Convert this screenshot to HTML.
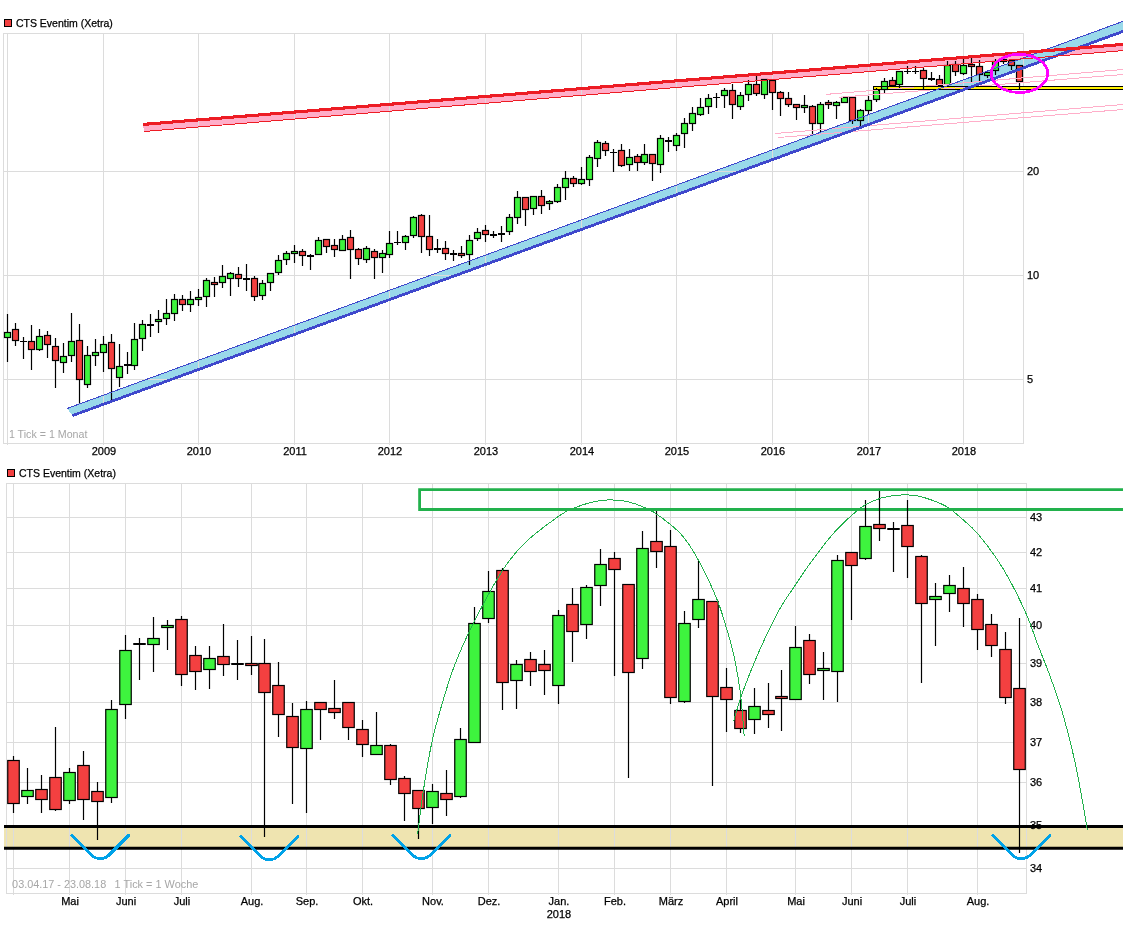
<!DOCTYPE html>
<html><head><meta charset="utf-8"><title>CTS Eventim (Xetra)</title>
<style>html,body{margin:0;padding:0;background:#fff}svg{display:block}text{font-family:"Liberation Sans",Arial,sans-serif;font-size:11px;fill:#000;stroke:#000;stroke-width:.25px}.gr{fill:#a6a6a6;stroke:none}</style>
</head><body>
<svg width="1123" height="933" viewBox="0 0 1123 933">
<rect width="1123" height="933" fill="#fff"/>
<polygon points="143.2,124.4 1123,44.4 1123,50.6 143.9,131.5" fill="#ffaec9" shape-rendering="crispEdges"/>
<polygon points="67.1,408.5 1123,21.36 1123,31.4 72.45,415.6" fill="#99d9ea" shape-rendering="crispEdges"/>
<g stroke="#dcdcdc" stroke-width="1" fill="none" shape-rendering="crispEdges">
<rect x="3.5" y="33.5" width="1020.0" height="410.0"/>
<line x1="7.5" y1="33.5" x2="7.5" y2="445.0"/>
<line x1="103.5" y1="33.5" x2="103.5" y2="445.0"/>
<line x1="198.5" y1="33.5" x2="198.5" y2="445.0"/>
<line x1="294.5" y1="33.5" x2="294.5" y2="445.0"/>
<line x1="389.5" y1="33.5" x2="389.5" y2="445.0"/>
<line x1="485.5" y1="33.5" x2="485.5" y2="445.0"/>
<line x1="581.5" y1="33.5" x2="581.5" y2="445.0"/>
<line x1="676.5" y1="33.5" x2="676.5" y2="445.0"/>
<line x1="772.5" y1="33.5" x2="772.5" y2="445.0"/>
<line x1="868.5" y1="33.5" x2="868.5" y2="445.0"/>
<line x1="963.5" y1="33.5" x2="963.5" y2="445.0"/>
<line x1="3.5" y1="171.5" x2="1023.5" y2="171.5"/>
<line x1="3.5" y1="275.5" x2="1023.5" y2="275.5"/>
<line x1="3.5" y1="379.5" x2="1023.5" y2="379.5"/>
</g>
<rect x="873" y="86" width="260" height="4" fill="#fff200" shape-rendering="crispEdges"/>
<g stroke="#000" stroke-width="1.2"><line x1="7.5" y1="314" x2="7.5" y2="362"/><rect x="4.5" y="332.5" width="6" height="5" fill="#3ef33e"/><line x1="15.5" y1="323" x2="15.5" y2="346"/><rect x="12.5" y="329.5" width="6" height="11" fill="#f34040"/><line x1="23.5" y1="337" x2="23.5" y2="359"/><line x1="20" y1="341.5" x2="27" y2="341.5" stroke-width="1"/><line x1="31.5" y1="325" x2="31.5" y2="370"/><rect x="28.5" y="341.5" width="6" height="8" fill="#f34040"/><line x1="39.5" y1="329" x2="39.5" y2="351"/><rect x="36.5" y="336.5" width="6" height="13" fill="#3ef33e"/><line x1="47.5" y1="331" x2="47.5" y2="358"/><rect x="44.5" y="335.5" width="6" height="9" fill="#f34040"/><line x1="55.5" y1="338" x2="55.5" y2="388"/><rect x="52.5" y="346.5" width="6" height="14" fill="#f34040"/><line x1="63.5" y1="343" x2="63.5" y2="373"/><rect x="60.5" y="356.5" width="6" height="6" fill="#3ef33e"/><line x1="71.5" y1="313" x2="71.5" y2="362"/><rect x="68.5" y="341.5" width="6" height="14" fill="#3ef33e"/><line x1="79.5" y1="324" x2="79.5" y2="404"/><rect x="76.5" y="340.5" width="6" height="39" fill="#f34040"/><line x1="87.5" y1="346" x2="87.5" y2="388"/><rect x="84.5" y="355.5" width="6" height="29" fill="#3ef33e"/><line x1="95.5" y1="339" x2="95.5" y2="366"/><rect x="92.5" y="352.5" width="6" height="3" fill="#3ef33e"/><line x1="103.5" y1="336" x2="103.5" y2="372"/><rect x="100.5" y="344.5" width="6" height="8" fill="#3ef33e"/><line x1="111.5" y1="334" x2="111.5" y2="403"/><rect x="108.5" y="342.5" width="6" height="26" fill="#f34040"/><line x1="119.5" y1="344" x2="119.5" y2="387"/><rect x="116.5" y="366.5" width="6" height="11" fill="#3ef33e"/><line x1="127.5" y1="352" x2="127.5" y2="374"/><line x1="124" y1="365" x2="131" y2="365" stroke-width="2"/><line x1="134.5" y1="323" x2="134.5" y2="370"/><rect x="131.5" y="339.5" width="6" height="26" fill="#3ef33e"/><line x1="142.5" y1="320" x2="142.5" y2="351"/><rect x="139.5" y="324.5" width="6" height="14" fill="#3ef33e"/><line x1="150.5" y1="314" x2="150.5" y2="337"/><line x1="147" y1="325" x2="154" y2="325" stroke-width="2"/><line x1="158.5" y1="310" x2="158.5" y2="333"/><rect x="155.5" y="319.5" width="6" height="2" fill="#3ef33e"/><line x1="166.5" y1="299" x2="166.5" y2="325"/><rect x="163.5" y="313.5" width="6" height="5" fill="#3ef33e"/><line x1="174.5" y1="294" x2="174.5" y2="321"/><rect x="171.5" y="299.5" width="6" height="14" fill="#3ef33e"/><line x1="182.5" y1="295" x2="182.5" y2="311"/><rect x="179.5" y="299.5" width="6" height="5" fill="#f34040"/><line x1="190.5" y1="291" x2="190.5" y2="312"/><rect x="187.5" y="299.5" width="6" height="5" fill="#3ef33e"/><line x1="198.5" y1="289" x2="198.5" y2="306"/><rect x="195.5" y="297.5" width="6" height="2" fill="#3ef33e"/><line x1="206.5" y1="278" x2="206.5" y2="307"/><rect x="203.5" y="280.5" width="6" height="16" fill="#3ef33e"/><line x1="214.5" y1="277" x2="214.5" y2="297"/><rect x="211.5" y="282.5" width="6" height="2" fill="#f34040"/><line x1="222.5" y1="265" x2="222.5" y2="288"/><rect x="219.5" y="276.5" width="6" height="6" fill="#3ef33e"/><line x1="230.5" y1="272" x2="230.5" y2="296"/><rect x="227.5" y="273.5" width="6" height="5" fill="#3ef33e"/><line x1="238.5" y1="267" x2="238.5" y2="287"/><rect x="235.5" y="274.5" width="6" height="4" fill="#f34040"/><line x1="246.5" y1="264" x2="246.5" y2="291"/><line x1="243" y1="279" x2="250" y2="279" stroke-width="2"/><line x1="254.5" y1="276" x2="254.5" y2="301"/><rect x="251.5" y="278.5" width="6" height="18" fill="#f34040"/><line x1="262.5" y1="280" x2="262.5" y2="300"/><rect x="259.5" y="283.5" width="6" height="12" fill="#3ef33e"/><line x1="270.5" y1="273" x2="270.5" y2="291"/><rect x="267.5" y="273.5" width="6" height="9" fill="#3ef33e"/><line x1="278.5" y1="255" x2="278.5" y2="275"/><rect x="275.5" y="260.5" width="6" height="12" fill="#3ef33e"/><line x1="286.5" y1="251" x2="286.5" y2="265"/><rect x="283.5" y="253.5" width="6" height="6" fill="#3ef33e"/><line x1="294.5" y1="245" x2="294.5" y2="263"/><rect x="291.5" y="251.5" width="6" height="2" fill="#3ef33e"/><line x1="302.5" y1="249" x2="302.5" y2="266"/><rect x="299.5" y="251.5" width="6" height="4" fill="#f34040"/><line x1="310.5" y1="254" x2="310.5" y2="270"/><line x1="307" y1="256" x2="314" y2="256" stroke-width="2"/><line x1="318.5" y1="237" x2="318.5" y2="254"/><rect x="315.5" y="240.5" width="6" height="14" fill="#3ef33e"/><line x1="326.5" y1="239" x2="326.5" y2="253"/><rect x="323.5" y="239.5" width="6" height="7" fill="#f34040"/><line x1="334.5" y1="239" x2="334.5" y2="257"/><rect x="331.5" y="245.5" width="6" height="4" fill="#f34040"/><line x1="342.5" y1="235" x2="342.5" y2="251"/><rect x="339.5" y="239.5" width="6" height="11" fill="#3ef33e"/><line x1="350.5" y1="230" x2="350.5" y2="279"/><rect x="347.5" y="237.5" width="6" height="12" fill="#f34040"/><line x1="358.5" y1="248" x2="358.5" y2="265"/><rect x="355.5" y="249.5" width="6" height="9" fill="#f34040"/><line x1="366.5" y1="246" x2="366.5" y2="263"/><rect x="363.5" y="248.5" width="6" height="11" fill="#3ef33e"/><line x1="374.5" y1="249" x2="374.5" y2="279"/><rect x="371.5" y="251.5" width="6" height="6" fill="#f34040"/><line x1="382.5" y1="250" x2="382.5" y2="273"/><rect x="379.5" y="253.5" width="6" height="4" fill="#3ef33e"/><line x1="389.5" y1="231" x2="389.5" y2="258"/><rect x="386.5" y="243.5" width="6" height="11" fill="#3ef33e"/><line x1="397.5" y1="231" x2="397.5" y2="245"/><line x1="394" y1="242.5" x2="401" y2="242.5" stroke-width="1"/><line x1="405.5" y1="235" x2="405.5" y2="250"/><rect x="402.5" y="236.5" width="6" height="6" fill="#3ef33e"/><line x1="413.5" y1="216" x2="413.5" y2="238"/><rect x="410.5" y="217.5" width="6" height="18" fill="#3ef33e"/><line x1="421.5" y1="214" x2="421.5" y2="253"/><rect x="418.5" y="215.5" width="6" height="21" fill="#f34040"/><line x1="429.5" y1="215" x2="429.5" y2="256"/><rect x="426.5" y="236.5" width="6" height="13" fill="#f34040"/><line x1="437.5" y1="239" x2="437.5" y2="253"/><line x1="434" y1="249" x2="441" y2="249" stroke-width="2"/><line x1="445.5" y1="241" x2="445.5" y2="260"/><rect x="442.5" y="248.5" width="6" height="5" fill="#f34040"/><line x1="453.5" y1="250" x2="453.5" y2="261"/><line x1="450" y1="254" x2="457" y2="254" stroke-width="2"/><line x1="461.5" y1="246" x2="461.5" y2="258"/><rect x="458.5" y="253.5" width="6" height="2" fill="#f34040"/><line x1="469.5" y1="235" x2="469.5" y2="265"/><rect x="466.5" y="240.5" width="6" height="14" fill="#3ef33e"/><line x1="477.5" y1="228" x2="477.5" y2="241"/><rect x="474.5" y="232.5" width="6" height="6" fill="#3ef33e"/><line x1="485.5" y1="225" x2="485.5" y2="242"/><rect x="482.5" y="230.5" width="6" height="4" fill="#f34040"/><line x1="493.5" y1="231" x2="493.5" y2="238"/><line x1="490" y1="235" x2="497" y2="235" stroke-width="2"/><line x1="501.5" y1="226" x2="501.5" y2="242"/><line x1="498" y1="234" x2="505" y2="234" stroke-width="2"/><line x1="509.5" y1="214" x2="509.5" y2="235"/><rect x="506.5" y="217.5" width="6" height="14" fill="#3ef33e"/><line x1="517.5" y1="191" x2="517.5" y2="224"/><rect x="514.5" y="197.5" width="6" height="20" fill="#3ef33e"/><line x1="525.5" y1="197" x2="525.5" y2="226"/><rect x="522.5" y="197.5" width="6" height="12" fill="#f34040"/><line x1="533.5" y1="196" x2="533.5" y2="215"/><rect x="530.5" y="196.5" width="6" height="12" fill="#3ef33e"/><line x1="541.5" y1="190" x2="541.5" y2="214"/><rect x="538.5" y="196.5" width="6" height="9" fill="#f34040"/><line x1="549.5" y1="200" x2="549.5" y2="210"/><rect x="546.5" y="201.5" width="6" height="2" fill="#3ef33e"/><line x1="557.5" y1="184" x2="557.5" y2="203"/><rect x="554.5" y="187.5" width="6" height="14" fill="#3ef33e"/><line x1="565.5" y1="171" x2="565.5" y2="200"/><rect x="562.5" y="178.5" width="6" height="9" fill="#3ef33e"/><line x1="573.5" y1="176" x2="573.5" y2="187"/><rect x="570.5" y="178.5" width="6" height="5" fill="#f34040"/><line x1="581.5" y1="167" x2="581.5" y2="185"/><rect x="578.5" y="179.5" width="6" height="4" fill="#3ef33e"/><line x1="589.5" y1="155" x2="589.5" y2="186"/><rect x="586.5" y="157.5" width="6" height="22" fill="#3ef33e"/><line x1="597.5" y1="140" x2="597.5" y2="167"/><rect x="594.5" y="142.5" width="6" height="16" fill="#3ef33e"/><line x1="605.5" y1="141" x2="605.5" y2="156"/><rect x="602.5" y="143.5" width="6" height="7" fill="#f34040"/><line x1="613.5" y1="149" x2="613.5" y2="172"/><line x1="610" y1="152.5" x2="617" y2="152.5" stroke-width="1"/><line x1="621.5" y1="144" x2="621.5" y2="167"/><rect x="618.5" y="150.5" width="6" height="15" fill="#f34040"/><line x1="629.5" y1="149" x2="629.5" y2="171"/><rect x="626.5" y="157.5" width="6" height="7" fill="#3ef33e"/><line x1="637.5" y1="154" x2="637.5" y2="171"/><rect x="634.5" y="156.5" width="6" height="6" fill="#f34040"/><line x1="644.5" y1="144" x2="644.5" y2="165"/><rect x="641.5" y="154.5" width="6" height="8" fill="#3ef33e"/><line x1="652.5" y1="154" x2="652.5" y2="181"/><rect x="649.5" y="154.5" width="6" height="9" fill="#f34040"/><line x1="660.5" y1="135" x2="660.5" y2="173"/><rect x="657.5" y="138.5" width="6" height="26" fill="#3ef33e"/><line x1="668.5" y1="137" x2="668.5" y2="152"/><line x1="665" y1="141" x2="672" y2="141" stroke-width="2"/><line x1="676.5" y1="133" x2="676.5" y2="151"/><rect x="673.5" y="135.5" width="6" height="10" fill="#3ef33e"/><line x1="684.5" y1="118" x2="684.5" y2="148"/><rect x="681.5" y="123.5" width="6" height="10" fill="#3ef33e"/><line x1="692.5" y1="107" x2="692.5" y2="131"/><rect x="689.5" y="113.5" width="6" height="10" fill="#3ef33e"/><line x1="700.5" y1="98" x2="700.5" y2="116"/><rect x="697.5" y="107.5" width="6" height="7" fill="#3ef33e"/><line x1="708.5" y1="94" x2="708.5" y2="114"/><rect x="705.5" y="98.5" width="6" height="8" fill="#3ef33e"/><line x1="716.5" y1="93" x2="716.5" y2="108"/><line x1="713" y1="97.5" x2="720" y2="97.5" stroke-width="1"/><line x1="724.5" y1="88" x2="724.5" y2="108"/><rect x="721.5" y="90.5" width="6" height="5" fill="#3ef33e"/><line x1="732.5" y1="84" x2="732.5" y2="119"/><rect x="729.5" y="90.5" width="6" height="14" fill="#f34040"/><line x1="740.5" y1="92" x2="740.5" y2="110"/><rect x="737.5" y="95.5" width="6" height="11" fill="#3ef33e"/><line x1="748.5" y1="80" x2="748.5" y2="101"/><rect x="745.5" y="84.5" width="6" height="10" fill="#3ef33e"/><line x1="756.5" y1="76" x2="756.5" y2="96"/><rect x="753.5" y="84.5" width="6" height="9" fill="#f34040"/><line x1="764.5" y1="79" x2="764.5" y2="99"/><rect x="761.5" y="79.5" width="6" height="15" fill="#3ef33e"/><line x1="772.5" y1="80" x2="772.5" y2="110"/><rect x="769.5" y="80.5" width="6" height="12" fill="#f34040"/><line x1="780.5" y1="91" x2="780.5" y2="116"/><rect x="777.5" y="92.5" width="6" height="6" fill="#f34040"/><line x1="788.5" y1="92" x2="788.5" y2="107"/><rect x="785.5" y="98.5" width="6" height="6" fill="#f34040"/><line x1="796.5" y1="104" x2="796.5" y2="120"/><rect x="793.5" y="104.5" width="6" height="3" fill="#f34040"/><line x1="804.5" y1="95" x2="804.5" y2="113"/><rect x="801.5" y="105.5" width="6" height="2" fill="#3ef33e"/><line x1="812.5" y1="105" x2="812.5" y2="134"/><rect x="809.5" y="106.5" width="6" height="17" fill="#f34040"/><line x1="820.5" y1="102" x2="820.5" y2="132"/><rect x="817.5" y="104.5" width="6" height="19" fill="#3ef33e"/><line x1="828.5" y1="100" x2="828.5" y2="109"/><rect x="825.5" y="102.5" width="6" height="2" fill="#f34040"/><line x1="836.5" y1="101" x2="836.5" y2="119"/><rect x="833.5" y="102.5" width="6" height="3" fill="#3ef33e"/><line x1="844.5" y1="96" x2="844.5" y2="103"/><rect x="841.5" y="97.5" width="6" height="5" fill="#3ef33e"/><line x1="852.5" y1="97" x2="852.5" y2="124"/><rect x="849.5" y="97.5" width="6" height="23" fill="#f34040"/><line x1="860.5" y1="109" x2="860.5" y2="126"/><rect x="857.5" y="110.5" width="6" height="10" fill="#3ef33e"/><line x1="868.5" y1="96" x2="868.5" y2="114"/><rect x="865.5" y="100.5" width="6" height="10" fill="#3ef33e"/><line x1="876.5" y1="88" x2="876.5" y2="102"/><rect x="873.5" y="90.5" width="6" height="9" fill="#3ef33e"/><line x1="884.5" y1="78" x2="884.5" y2="93"/><rect x="881.5" y="81.5" width="6" height="8" fill="#3ef33e"/><line x1="892.5" y1="77" x2="892.5" y2="86"/><rect x="889.5" y="80.5" width="6" height="5" fill="#f34040"/><line x1="899.5" y1="71" x2="899.5" y2="88"/><rect x="896.5" y="71.5" width="6" height="13" fill="#3ef33e"/><line x1="907.5" y1="66" x2="907.5" y2="74"/><line x1="904" y1="71.5" x2="911" y2="71.5" stroke-width="1"/><line x1="915.5" y1="66" x2="915.5" y2="74"/><line x1="912" y1="71.5" x2="919" y2="71.5" stroke-width="1"/><line x1="923.5" y1="68" x2="923.5" y2="89"/><rect x="920.5" y="70.5" width="6" height="8" fill="#f34040"/><line x1="931.5" y1="72" x2="931.5" y2="81"/><line x1="928" y1="79" x2="935" y2="79" stroke-width="2"/><line x1="939.5" y1="75" x2="939.5" y2="87"/><rect x="936.5" y="79.5" width="6" height="6" fill="#f34040"/><line x1="947.5" y1="61" x2="947.5" y2="86"/><rect x="944.5" y="65.5" width="6" height="19" fill="#3ef33e"/><line x1="955.5" y1="61" x2="955.5" y2="76"/><rect x="952.5" y="64.5" width="6" height="7" fill="#f34040"/><line x1="963.5" y1="59" x2="963.5" y2="75"/><rect x="960.5" y="65.5" width="6" height="8" fill="#3ef33e"/><line x1="971.5" y1="58" x2="971.5" y2="82"/><rect x="968.5" y="64.5" width="6" height="2" fill="#f34040"/><line x1="979.5" y1="60" x2="979.5" y2="81"/><rect x="976.5" y="66.5" width="6" height="8" fill="#f34040"/><line x1="987.5" y1="72" x2="987.5" y2="78"/><rect x="984.5" y="72.5" width="6" height="3" fill="#3ef33e"/><line x1="995.5" y1="59" x2="995.5" y2="75"/><rect x="992.5" y="61.5" width="6" height="9" fill="#3ef33e"/><line x1="1003.5" y1="55" x2="1003.5" y2="64"/><rect x="1000.5" y="59.5" width="6" height="2" fill="#f34040"/><line x1="1011.5" y1="60" x2="1011.5" y2="70"/><rect x="1008.5" y="60.5" width="6" height="5" fill="#f34040"/><line x1="1019.5" y1="65" x2="1019.5" y2="89"/><rect x="1016.5" y="65.5" width="6" height="16" fill="#f34040"/></g>
<line x1="826.4" y1="94.35" x2="1123" y2="69.5" stroke="#ffaec9" stroke-width="1" shape-rendering="crispEdges"/>
<line x1="839.4" y1="97.3" x2="1123" y2="74.5" stroke="#ffaec9" stroke-width="1" shape-rendering="crispEdges"/>
<line x1="775.2" y1="133.5" x2="1123" y2="104.5" stroke="#ffaec9" stroke-width="1" shape-rendering="crispEdges"/>
<line x1="778.4" y1="137.5" x2="1123" y2="109.5" stroke="#ffaec9" stroke-width="1" shape-rendering="crispEdges"/>
<rect x="873.5" y="86.5" width="260" height="3" fill="none" stroke="#000" stroke-width="1" shape-rendering="crispEdges"/>
<line x1="67.1" y1="408.5" x2="1123" y2="21.36" stroke="#3f48cc" stroke-width="1" shape-rendering="crispEdges"/>
<line x1="72.45" y1="415.6" x2="1123" y2="31.4" stroke="#3f48cc" stroke-width="2.8" shape-rendering="crispEdges"/>
<line x1="143.9" y1="131.5" x2="1123" y2="50.6" stroke="#ed1c24" stroke-width="1" shape-rendering="crispEdges"/>
<line x1="143.2" y1="124.4" x2="1123" y2="44.4" stroke="#ed1c24" stroke-width="3.1" shape-rendering="crispEdges"/>
<ellipse cx="1019.5" cy="73.4" rx="28.2" ry="19.1" fill="none" stroke="#ff00ff" stroke-width="2.7" shape-rendering="crispEdges"/>
<rect x="4.5" y="19.5" width="7" height="7" fill="#f34040" stroke="#000" stroke-width="1"/>
<text x="15.9" y="27" textLength="96.9" lengthAdjust="spacingAndGlyphs">CTS Eventim (Xetra)</text>
<text class="gr" x="8.9" y="438" textLength="78.5" lengthAdjust="spacingAndGlyphs">1 Tick = 1 Monat</text>
<text x="104.0" y="455" text-anchor="middle">2009</text>
<text x="199.0" y="455" text-anchor="middle">2010</text>
<text x="295.0" y="455" text-anchor="middle">2011</text>
<text x="390.0" y="455" text-anchor="middle">2012</text>
<text x="486.0" y="455" text-anchor="middle">2013</text>
<text x="582.0" y="455" text-anchor="middle">2014</text>
<text x="677.0" y="455" text-anchor="middle">2015</text>
<text x="773.0" y="455" text-anchor="middle">2016</text>
<text x="869.0" y="455" text-anchor="middle">2017</text>
<text x="964.0" y="455" text-anchor="middle">2018</text>
<text x="1027" y="175.0">20</text>
<text x="1027" y="279.0">10</text>
<text x="1027" y="383.0">5</text>
<rect x="4" y="826.4" width="1125" height="22" fill="#efe4b0"/>
<g stroke="#dcdcdc" stroke-width="1" fill="none" shape-rendering="crispEdges">
<rect x="6.5" y="483.5" width="1020.0" height="410.0"/>
<line x1="13.5" y1="483.5" x2="13.5" y2="895.0"/>
<line x1="69.5" y1="483.5" x2="69.5" y2="895.0"/>
<line x1="125.5" y1="483.5" x2="125.5" y2="895.0"/>
<line x1="181.5" y1="483.5" x2="181.5" y2="895.0"/>
<line x1="251.5" y1="483.5" x2="251.5" y2="895.0"/>
<line x1="306.5" y1="483.5" x2="306.5" y2="895.0"/>
<line x1="362.5" y1="483.5" x2="362.5" y2="895.0"/>
<line x1="432.5" y1="483.5" x2="432.5" y2="895.0"/>
<line x1="488.5" y1="483.5" x2="488.5" y2="895.0"/>
<line x1="558.5" y1="483.5" x2="558.5" y2="895.0"/>
<line x1="614.5" y1="483.5" x2="614.5" y2="895.0"/>
<line x1="670.5" y1="483.5" x2="670.5" y2="895.0"/>
<line x1="726.5" y1="483.5" x2="726.5" y2="895.0"/>
<line x1="795.5" y1="483.5" x2="795.5" y2="895.0"/>
<line x1="851.5" y1="483.5" x2="851.5" y2="895.0"/>
<line x1="907.5" y1="483.5" x2="907.5" y2="895.0"/>
<line x1="977.5" y1="483.5" x2="977.5" y2="895.0"/>
<line x1="6.5" y1="517.5" x2="1026.5" y2="517.5"/>
<line x1="6.5" y1="552.5" x2="1026.5" y2="552.5"/>
<line x1="6.5" y1="588.5" x2="1026.5" y2="588.5"/>
<line x1="6.5" y1="625.5" x2="1026.5" y2="625.5"/>
<line x1="6.5" y1="663.5" x2="1026.5" y2="663.5"/>
<line x1="6.5" y1="702.5" x2="1026.5" y2="702.5"/>
<line x1="6.5" y1="742.5" x2="1026.5" y2="742.5"/>
<line x1="6.5" y1="782.5" x2="1026.5" y2="782.5"/>
<line x1="6.5" y1="825.5" x2="1026.5" y2="825.5"/>
<line x1="6.5" y1="868.5" x2="1026.5" y2="868.5"/>
</g>
<line x1="4" y1="826.4" x2="1123" y2="826.4" stroke="#000" stroke-width="3"/>
<line x1="4" y1="848.35" x2="1123" y2="848.35" stroke="#000" stroke-width="3"/>
<path d="M1125,489.6H419.6V509.5H1125" fill="none" stroke="#22b14c" stroke-width="2.8"/>
<g stroke="#000" stroke-width="1.2"><line x1="13.5" y1="756" x2="13.5" y2="813"/><rect x="7.75" y="760.5" width="11.5" height="43" fill="#f34040"/><line x1="27.5" y1="768" x2="27.5" y2="804"/><rect x="21.75" y="790.5" width="11.5" height="6" fill="#3ef33e"/><line x1="41.5" y1="775" x2="41.5" y2="813"/><rect x="35.75" y="789.5" width="11.5" height="10" fill="#f34040"/><line x1="55.5" y1="727" x2="55.5" y2="811"/><rect x="49.75" y="777.5" width="11.5" height="32" fill="#f34040"/><line x1="69.5" y1="768" x2="69.5" y2="804"/><rect x="63.75" y="772.5" width="11.5" height="28" fill="#3ef33e"/><line x1="83.5" y1="751" x2="83.5" y2="820"/><rect x="77.75" y="765.5" width="11.5" height="34" fill="#f34040"/><line x1="97.5" y1="782" x2="97.5" y2="840"/><rect x="91.75" y="791.5" width="11.5" height="10" fill="#f34040"/><line x1="111.5" y1="700" x2="111.5" y2="803"/><rect x="105.75" y="709.5" width="11.5" height="88" fill="#3ef33e"/><line x1="125.5" y1="635" x2="125.5" y2="719"/><rect x="119.75" y="650.5" width="11.5" height="54" fill="#3ef33e"/><line x1="139.5" y1="638" x2="139.5" y2="680"/><line x1="133.25" y1="644" x2="145.75" y2="644" stroke-width="2"/><line x1="153.5" y1="617" x2="153.5" y2="672"/><rect x="147.75" y="638.5" width="11.5" height="6" fill="#3ef33e"/><line x1="167.5" y1="620" x2="167.5" y2="650"/><rect x="161.75" y="625.5" width="11.5" height="2" fill="#3ef33e"/><line x1="181.5" y1="616" x2="181.5" y2="686"/><rect x="175.75" y="619.5" width="11.5" height="55" fill="#f34040"/><line x1="195.5" y1="646" x2="195.5" y2="690"/><rect x="189.75" y="655.5" width="11.5" height="16" fill="#f34040"/><line x1="209.5" y1="646" x2="209.5" y2="689"/><rect x="203.75" y="658.5" width="11.5" height="11" fill="#3ef33e"/><line x1="223.5" y1="624" x2="223.5" y2="676"/><rect x="217.75" y="656.5" width="11.5" height="8" fill="#f34040"/><line x1="237.5" y1="640" x2="237.5" y2="680"/><line x1="231.25" y1="664" x2="243.75" y2="664" stroke-width="2"/><line x1="251.5" y1="636" x2="251.5" y2="675"/><rect x="245.75" y="663.5" width="11.5" height="2" fill="#f34040"/><line x1="264.5" y1="639" x2="264.5" y2="837"/><rect x="258.75" y="663.5" width="11.5" height="29" fill="#f34040"/><line x1="278.5" y1="662" x2="278.5" y2="737"/><rect x="272.75" y="685.5" width="11.5" height="29" fill="#f34040"/><line x1="292.5" y1="703" x2="292.5" y2="804"/><rect x="286.75" y="716.5" width="11.5" height="31" fill="#f34040"/><line x1="306.5" y1="701" x2="306.5" y2="813"/><rect x="300.75" y="709.5" width="11.5" height="39" fill="#3ef33e"/><line x1="320.5" y1="702" x2="320.5" y2="740"/><rect x="314.75" y="702.5" width="11.5" height="7" fill="#f34040"/><line x1="334.5" y1="680" x2="334.5" y2="719"/><rect x="328.75" y="708.5" width="11.5" height="4" fill="#f34040"/><line x1="348.5" y1="702" x2="348.5" y2="740"/><rect x="342.75" y="702.5" width="11.5" height="25" fill="#f34040"/><line x1="362.5" y1="720" x2="362.5" y2="757"/><rect x="356.75" y="729.5" width="11.5" height="15" fill="#f34040"/><line x1="376.5" y1="712" x2="376.5" y2="754"/><rect x="370.75" y="745.5" width="11.5" height="9" fill="#3ef33e"/><line x1="390.5" y1="744" x2="390.5" y2="785"/><rect x="384.75" y="745.5" width="11.5" height="34" fill="#f34040"/><line x1="404.5" y1="776" x2="404.5" y2="821"/><rect x="398.75" y="778.5" width="11.5" height="15" fill="#f34040"/><line x1="418.5" y1="790" x2="418.5" y2="839"/><rect x="412.75" y="790.5" width="11.5" height="18" fill="#f34040"/><line x1="432.5" y1="784" x2="432.5" y2="824"/><rect x="426.75" y="791.5" width="11.5" height="16" fill="#3ef33e"/><line x1="446.5" y1="770" x2="446.5" y2="816"/><rect x="440.75" y="793.5" width="11.5" height="6" fill="#f34040"/><line x1="460.5" y1="728" x2="460.5" y2="798"/><rect x="454.75" y="739.5" width="11.5" height="57" fill="#3ef33e"/><line x1="474.5" y1="607" x2="474.5" y2="742"/><rect x="468.75" y="623.5" width="11.5" height="119" fill="#3ef33e"/><line x1="488.5" y1="571" x2="488.5" y2="623"/><rect x="482.75" y="591.5" width="11.5" height="27" fill="#3ef33e"/><line x1="502.5" y1="568" x2="502.5" y2="710"/><rect x="496.75" y="570.5" width="11.5" height="112" fill="#f34040"/><line x1="516.5" y1="660" x2="516.5" y2="709"/><rect x="510.75" y="664.5" width="11.5" height="16" fill="#3ef33e"/><line x1="530.5" y1="652" x2="530.5" y2="686"/><rect x="524.75" y="659.5" width="11.5" height="12" fill="#f34040"/><line x1="544.5" y1="650" x2="544.5" y2="695"/><rect x="538.75" y="664.5" width="11.5" height="6" fill="#f34040"/><line x1="558.5" y1="610" x2="558.5" y2="704"/><rect x="552.75" y="615.5" width="11.5" height="70" fill="#3ef33e"/><line x1="572.5" y1="588" x2="572.5" y2="662"/><rect x="566.75" y="604.5" width="11.5" height="27" fill="#f34040"/><line x1="586.5" y1="585" x2="586.5" y2="639"/><rect x="580.75" y="587.5" width="11.5" height="37" fill="#3ef33e"/><line x1="600.5" y1="549" x2="600.5" y2="606"/><rect x="594.75" y="564.5" width="11.5" height="21" fill="#3ef33e"/><line x1="614.5" y1="552" x2="614.5" y2="676"/><rect x="608.75" y="558.5" width="11.5" height="11" fill="#f34040"/><line x1="628.5" y1="584" x2="628.5" y2="778"/><rect x="622.75" y="584.5" width="11.5" height="88" fill="#f34040"/><line x1="642.5" y1="531" x2="642.5" y2="669"/><rect x="636.75" y="548.5" width="11.5" height="110" fill="#3ef33e"/><line x1="656.5" y1="511" x2="656.5" y2="568"/><rect x="650.75" y="541.5" width="11.5" height="10" fill="#f34040"/><line x1="670.5" y1="530" x2="670.5" y2="704"/><rect x="664.75" y="546.5" width="11.5" height="151" fill="#f34040"/><line x1="684.5" y1="611" x2="684.5" y2="703"/><rect x="678.75" y="623.5" width="11.5" height="78" fill="#3ef33e"/><line x1="698.5" y1="561" x2="698.5" y2="628"/><rect x="692.75" y="599.5" width="11.5" height="20" fill="#3ef33e"/><line x1="712.5" y1="602" x2="712.5" y2="786"/><rect x="706.75" y="601.5" width="11.5" height="95" fill="#f34040"/><line x1="726.5" y1="668" x2="726.5" y2="732"/><rect x="720.75" y="687.5" width="11.5" height="12" fill="#f34040"/><line x1="740.5" y1="699" x2="740.5" y2="733"/><rect x="734.75" y="710.5" width="11.5" height="18" fill="#f34040"/><line x1="754.5" y1="688" x2="754.5" y2="734"/><rect x="748.75" y="706.5" width="11.5" height="13" fill="#3ef33e"/><line x1="768.5" y1="683" x2="768.5" y2="728"/><rect x="762.75" y="710.5" width="11.5" height="4" fill="#f34040"/><line x1="781.5" y1="670" x2="781.5" y2="731"/><rect x="775.75" y="696.5" width="11.5" height="2" fill="#f34040"/><line x1="795.5" y1="626" x2="795.5" y2="699"/><rect x="789.75" y="647.5" width="11.5" height="52" fill="#3ef33e"/><line x1="809.5" y1="634" x2="809.5" y2="684"/><rect x="803.75" y="640.5" width="11.5" height="34" fill="#f34040"/><line x1="823.5" y1="652" x2="823.5" y2="700"/><rect x="817.75" y="668.5" width="11.5" height="2" fill="#3ef33e"/><line x1="837.5" y1="555" x2="837.5" y2="702"/><rect x="831.75" y="560.5" width="11.5" height="111" fill="#3ef33e"/><line x1="851.5" y1="552" x2="851.5" y2="620"/><rect x="845.75" y="552.5" width="11.5" height="13" fill="#f34040"/><line x1="865.5" y1="500" x2="865.5" y2="560"/><rect x="859.75" y="526.5" width="11.5" height="32" fill="#3ef33e"/><line x1="879.5" y1="491" x2="879.5" y2="541"/><rect x="873.75" y="524.5" width="11.5" height="4" fill="#f34040"/><line x1="893.5" y1="522" x2="893.5" y2="572"/><line x1="887.25" y1="529" x2="899.75" y2="529" stroke-width="2"/><line x1="907.5" y1="500" x2="907.5" y2="578"/><rect x="901.75" y="525.5" width="11.5" height="21" fill="#f34040"/><line x1="921.5" y1="555" x2="921.5" y2="683"/><rect x="915.75" y="556.5" width="11.5" height="47" fill="#f34040"/><line x1="935.5" y1="583" x2="935.5" y2="646"/><rect x="929.75" y="596.5" width="11.5" height="3" fill="#3ef33e"/><line x1="949.5" y1="575" x2="949.5" y2="612"/><rect x="943.75" y="585.5" width="11.5" height="8" fill="#3ef33e"/><line x1="963.5" y1="567" x2="963.5" y2="627"/><rect x="957.75" y="588.5" width="11.5" height="15" fill="#f34040"/><line x1="977.5" y1="594" x2="977.5" y2="650"/><rect x="971.75" y="599.5" width="11.5" height="30" fill="#f34040"/><line x1="991.5" y1="614" x2="991.5" y2="657"/><rect x="985.75" y="624.5" width="11.5" height="21" fill="#f34040"/><line x1="1005.5" y1="632" x2="1005.5" y2="704"/><rect x="999.75" y="649.5" width="11.5" height="48" fill="#f34040"/><line x1="1019.5" y1="618" x2="1019.5" y2="853"/><rect x="1013.75" y="688.5" width="11.5" height="81" fill="#f34040"/></g>
<text x="1030" y="521.0">43</text>
<text x="1030" y="556.0">42</text>
<text x="1030" y="592.0">41</text>
<text x="1030" y="629.0">40</text>
<text x="1030" y="667.0">39</text>
<text x="1030" y="706.0">38</text>
<text x="1030" y="746.0">37</text>
<text x="1030" y="786.0">36</text>
<text x="1030" y="829.0">35</text>
<text x="1030" y="872.0">34</text>
<path d="M417.6,834C418.6,826.5 421.12,804.75 423.6,789C426.08,773.25 429.05,754.93 432.5,739.5C435.95,724.07 440.55,708.93 444.3,696.4C448.05,683.87 450.38,676.03 455,664.3C459.62,652.57 464.15,641.53 472,626C479.85,610.47 493.15,585.08 502.1,571.1C511.05,557.12 516.3,551.22 525.7,542.1C535.1,532.98 550.63,522.02 558.5,516.4C566.37,510.78 566.93,510.87 572.9,508.4C578.87,505.93 588.23,503.02 594.3,501.6C600.37,500.18 603.95,499.93 609.3,499.9C614.65,499.87 620.33,500.07 626.4,501.4C632.47,502.73 640.1,505.38 645.7,507.9C651.3,510.42 654.05,512.05 660,516.5C665.95,520.95 674.97,527.28 681.4,534.6C687.83,541.92 692.7,549.68 698.6,560.4C704.5,571.12 712.17,587.65 716.8,598.9C721.43,610.15 723.72,619.15 726.4,627.9C729.08,636.65 730.93,642.98 732.9,651.4C734.87,659.82 736.78,669.95 738.2,678.4C739.62,686.85 740.4,692.43 741.4,702.1C742.4,711.77 743.73,730.68 744.2,736.4" fill="none" stroke="#22b14c" stroke-width="1" shape-rendering="crispEdges"/>
<path d="M733.5,721.4C734.82,717.12 738.3,704.62 741.4,695.7C744.5,686.78 748.52,676.7 752.1,667.9C755.68,659.1 758.25,652.78 762.9,642.9C767.55,633.02 774.58,618.25 780,608.6C785.42,598.95 790.4,592.5 795.4,585C800.4,577.5 804,571.82 810,563.6C816,555.38 824.47,543.73 831.4,535.7C838.33,527.67 845.88,520.58 851.6,515.4C857.32,510.22 860.85,507.47 865.7,504.6C870.55,501.73 875.32,499.77 880.7,498.2C886.08,496.63 892.78,495.7 898,495.2C903.22,494.7 907.62,494.8 912,495.2C916.38,495.6 918.68,495.78 924.3,497.6C929.92,499.42 939.27,502.43 945.7,506.1C952.13,509.77 957.58,515.02 962.9,519.6C968.22,524.18 971.9,526.98 977.6,533.6C983.3,540.22 991.7,551.45 997.1,559.3C1002.5,567.15 1005.1,571.48 1010,580.7C1014.9,589.92 1021.85,603.88 1026.5,614.6C1031.15,625.32 1033.98,634.77 1037.9,645C1041.82,655.23 1045.82,664.4 1050,676C1054.18,687.6 1058.68,699.6 1063,714.6C1067.32,729.6 1071.82,746.7 1075.9,766C1079.98,785.3 1085.57,819.67 1087.5,830.4" fill="none" stroke="#22b14c" stroke-width="1" shape-rendering="crispEdges"/>
<path d="M71.75,835.3L92.05,855.6Q95.25,858.5 98.55,858.5L101.95,858.5Q105.25,858.5 108.45,855.6L128.75,835.3" fill="none" stroke="#00a2e8" stroke-width="2.9" stroke-linecap="round" stroke-linejoin="round" shape-rendering="crispEdges"/>
<path d="M240.7,836.4L261,856.7Q264.2,859.6 267.5,859.6L270.9,859.6Q274.2,859.6 277.4,856.7L297.7,836.4" fill="none" stroke="#00a2e8" stroke-width="2.9" stroke-linecap="round" stroke-linejoin="round" shape-rendering="crispEdges"/>
<path d="M392.8,835.3L413.1,855.6Q416.3,858.5 419.6,858.5L423,858.5Q426.3,858.5 429.5,855.6L449.8,835.3" fill="none" stroke="#00a2e8" stroke-width="2.9" stroke-linecap="round" stroke-linejoin="round" shape-rendering="crispEdges"/>
<path d="M992.8,835.3L1013.1,855.6Q1016.3,858.5 1019.6,858.5L1023,858.5Q1026.3,858.5 1029.5,855.6L1049.8,835.3" fill="none" stroke="#00a2e8" stroke-width="2.9" stroke-linecap="round" stroke-linejoin="round" shape-rendering="crispEdges"/>
<rect x="7.5" y="469.5" width="7" height="7" fill="#f34040" stroke="#000" stroke-width="1"/>
<text x="19" y="477" textLength="96.9" lengthAdjust="spacingAndGlyphs">CTS Eventim (Xetra)</text>
<text class="gr" x="12.1" y="888" textLength="94.1" lengthAdjust="spacingAndGlyphs">03.04.17 - 23.08.18</text>
<text class="gr" x="114.6" y="888" textLength="83.7" lengthAdjust="spacingAndGlyphs">1 Tick = 1 Woche</text>
<text x="70.0" y="905" text-anchor="middle">Mai</text>
<text x="126.0" y="905" text-anchor="middle">Juni</text>
<text x="182.0" y="905" text-anchor="middle">Juli</text>
<text x="252.0" y="905" text-anchor="middle">Aug.</text>
<text x="307.0" y="905" text-anchor="middle">Sep.</text>
<text x="363.0" y="905" text-anchor="middle">Okt.</text>
<text x="433.0" y="905" text-anchor="middle">Nov.</text>
<text x="489.0" y="905" text-anchor="middle">Dez.</text>
<text x="559.0" y="905" text-anchor="middle">Jan.</text>
<text x="615.0" y="905" text-anchor="middle">Feb.</text>
<text x="671.0" y="905" text-anchor="middle">März</text>
<text x="727.0" y="905" text-anchor="middle">April</text>
<text x="796.0" y="905" text-anchor="middle">Mai</text>
<text x="852.0" y="905" text-anchor="middle">Juni</text>
<text x="908.0" y="905" text-anchor="middle">Juli</text>
<text x="978.0" y="905" text-anchor="middle">Aug.</text>
<text x="559" y="917.5" text-anchor="middle">2018</text>
</svg></body></html>
